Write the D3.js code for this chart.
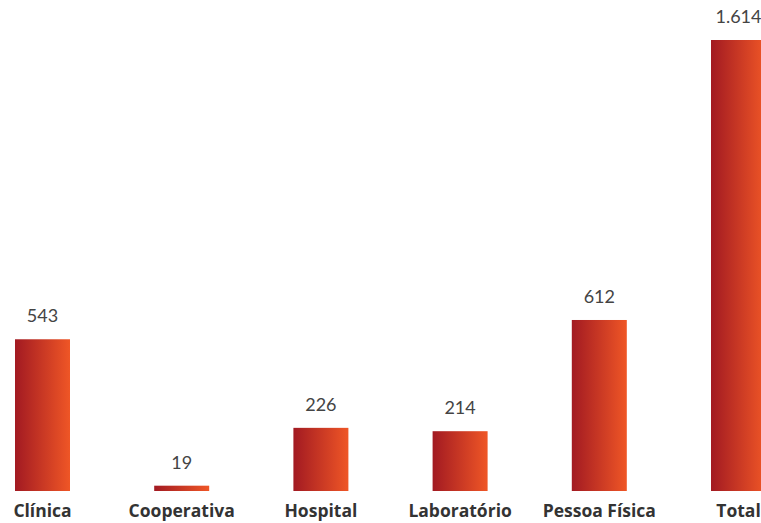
<!DOCTYPE html>
<html>
<head>
<meta charset="utf-8">
<script src="https://cdn.jsdelivr.net/npm/d3@7"></script>
<style>
  body { margin: 0; background: #fff; }
  .val { font-family: Lato, sans-serif; font-size: 18px; fill: #444; }
  .cat { font-family: "Open Sans", sans-serif; font-size: 17.5px; font-weight: bold; fill: #333; }
</style>
</head>
<body>
<div id="chart"></div>
<script>
// Chart data
var categories = ["Clínica", "Cooperativa", "Hospital", "Laboratório", "Pessoa Física", "Total"];
var values = [543, 19, 226, 214, 612, 1614];
var valueLabels = ["543", "19", "226", "214", "612", "1.614"];

var svgWidth = 761, svgHeight = 523;
var barWidth = 55;

var svg = d3.select("#chart").append("svg")
    .attr("width", svgWidth)
    .attr("height", svgHeight);

// gradient dark red -> orange, left to right on each bar
var grad = svg.append("defs").append("linearGradient")
    .attr("id", "barGrad")
    .attr("x1", "0%").attr("x2", "100%")
    .attr("y1", "0%").attr("y2", "0%");
grad.append("stop").attr("offset", "0%").attr("stop-color", "#a21a22");
grad.append("stop").attr("offset", "100%").attr("stop-color", "#ef5626");

// bar centres
var xScale = d3.scalePoint()
    .domain(categories)
    .range([42.5, 738.5])
    .padding(0);

var yScale = d3.scaleLinear()
    .domain([0, 1614])
    .range([491, 40]);

var data = categories.map((c, i) => ({cat: c, value: values[i], label: valueLabels[i]}));

svg.selectAll("rect.bar")
    .data(data)
    .enter()
    .append("rect")
    .attr("class", "bar")
    .attr("x", d => xScale(d.cat) - barWidth / 2)
    .attr("width", barWidth)
    .attr("y", d => yScale(d.value))
    .attr("height", d => yScale(0) - yScale(d.value))
    .attr("fill", "url(#barGrad)");

svg.selectAll("text.val")
    .data(data)
    .enter()
    .append("text")
    .attr("class", "val")
    .attr("text-anchor", "middle")
    .attr("x", d => xScale(d.cat))
    .attr("y", d => yScale(d.value) - 17)
    .text(d => d.label);

svg.selectAll("text.cat")
    .data(data)
    .enter()
    .append("text")
    .attr("class", "cat")
    .attr("text-anchor", "middle")
    .attr("x", d => xScale(d.cat))
    .attr("y", 517)
    .text(d => d.cat);
</script>
</body>
</html>
